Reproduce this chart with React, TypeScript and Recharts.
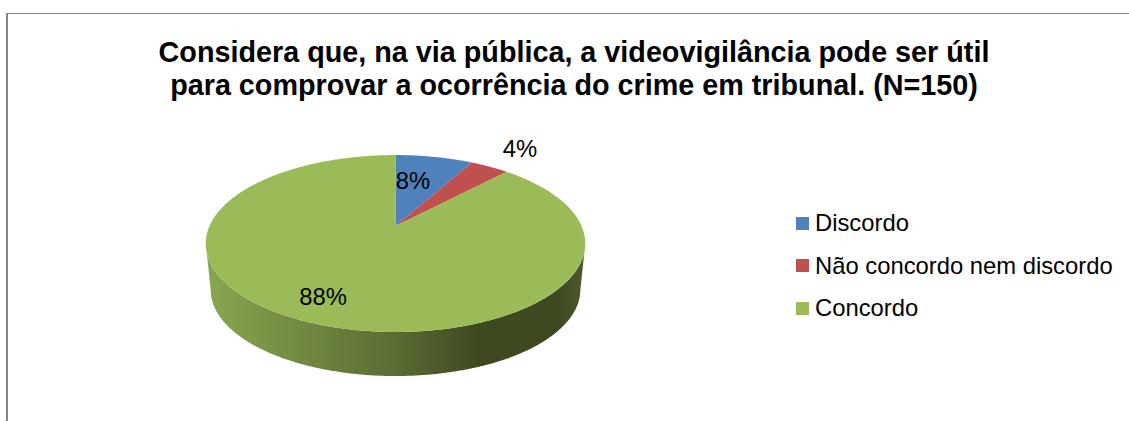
import { PieChart, Pie, Cell, Legend } from 'recharts';

const CATEGORIES = ['Discordo', 'Não concordo nem discordo', 'Concordo'];
const VALUES = [8, 4, 88];
const COLORS = ['#4F81BD', '#C0504D', '#9BBB59'];
const TITLE_LINES = [
  'Considera que, na via pública, a videovigilância pode ser útil',
  'para comprovar a ocorrência do crime em tribunal. (N=150)',
];

const chartData = CATEGORIES.map((name, i) => ({ name, value: VALUES[i] }));

const FONT = '"Liberation Sans", Arial, sans-serif';
// Excel's 3D pie: circle seen through a perspective projection
const TILT = 0.457;
const PERSPECTIVE = 0.198;
const DEPTH = 46.8;
const BOTTOM_SCALE = 0.974;
const LABEL_SPOTS = [
  { x: 413, y: 189 },
  { x: 520, y: 157 },
  { x: 323, y: 305 },
];

function project(cx: number, cy: number, r: number, deg: number, scale = 1, drop = 0) {
  const a = (deg * Math.PI) / 180;
  const w = 1 + PERSPECTIVE * Math.sin(a);
  return [
    cx + (scale * r * Math.cos(a)) / w,
    cy + drop - (scale * r * TILT * Math.sin(a)) / w,
  ];
}

function angleSteps(start: number, end: number) {
  const n = Math.max(2, Math.ceil(Math.abs(end - start) * 2));
  return Array.from({ length: n + 1 }, (_, i) => start + ((end - start) * i) / n);
}

function TopSlice(props: any) {
  const { cx, cy, outerRadius, startAngle, endAngle, fill } = props;
  const pts = angleSteps(startAngle, endAngle).map((d) => project(cx, cy, outerRadius, d));
  const path = `M${cx},${cy}L` + pts.map((p) => p.join(',')).join('L') + 'Z';
  return <path d={path} fill={fill} />;
}

function WallSlice(props: any) {
  const { cx, cy, outerRadius, startAngle, endAngle } = props;
  // only the part of the rim that faces the viewer
  const front = angleSteps(startAngle, endAngle).filter(
    (d) => Math.sin((d * Math.PI) / 180) < -PERSPECTIVE,
  );
  if (front.length < 2) return null;
  const top = front.map((d) => project(cx, cy, outerRadius, d));
  const bottom = front
    .slice()
    .reverse()
    .map((d) => project(cx, cy, outerRadius, d, BOTTOM_SCALE, DEPTH));
  const path = 'M' + [...top, ...bottom].map((p) => p.join(',')).join('L') + 'Z';
  return <path d={path} fill="url(#wallShade)" />;
}

function LegendList({ payload }: any) {
  const items = (payload || [])
    .filter((p: any) => p.type !== 'none')
    .sort((a: any, b: any) => CATEGORIES.indexOf(a.value) - CATEGORIES.indexOf(b.value));
  return (
    <div style={{ fontFamily: FONT, fontSize: 23.8, color: '#000' }}>
      {items.map((item: any) => (
        <div key={item.value} style={{ display: 'flex', alignItems: 'center', height: 42.5, whiteSpace: 'nowrap' }}>
          <span style={{ width: 13, height: 13, background: item.color, marginRight: 6 }} />
          {item.value}
        </div>
      ))}
    </div>
  );
}

function pctLabel(props: any) {
  const spot = LABEL_SPOTS[props.index];
  return (
    <text key={props.index} x={spot.x} y={spot.y} textAnchor="middle" fontFamily={FONT} fontSize={23.8} fill="#000">
      {VALUES[props.index]}%
    </text>
  );
}

export default function App() {
  return (
    <div style={{ position: 'absolute', left: 0, top: 0, width: 1129, height: 421, background: '#fff', overflow: 'hidden' }}>
      <div
        style={{
          position: 'absolute',
          left: 6,
          top: 13,
          width: 1200,
          height: 500,
          borderLeft: '2px solid #868686',
          borderTop: '1.5px solid #868686',
        }}
      />
      <PieChart
        width={1129}
        height={421}
        margin={{ top: 0, right: 0, bottom: 0, left: 0 }}
        style={{ position: 'absolute', left: 0, top: 0 }}
      >
        <defs>
          <linearGradient id="wallShade" gradientUnits="userSpaceOnUse" x1="206" y1="0" x2="585" y2="0">
            <stop offset="0" stopColor="#8AA650" />
            <stop offset="0.5" stopColor="#5A6C33" />
            <stop offset="0.72" stopColor="#3F4921" />
            <stop offset="0.93" stopColor="#3F4921" />
            <stop offset="1" stopColor="#4D5A2C" />
          </linearGradient>
        </defs>
        <text textAnchor="middle" fontFamily={FONT} fontWeight="bold" fontSize={28.75} fill="#000">
          <tspan x={574} y={62}>{TITLE_LINES[0]}</tspan>
          <tspan x={574} y={95}>{TITLE_LINES[1]}</tspan>
        </text>
        <Pie
          data={chartData}
          dataKey="value"
          nameKey="name"
          cx={395.5}
          cy={226}
          outerRadius={186}
          startAngle={90}
          endAngle={-270}
          stroke="none"
          legendType="none"
          shape={WallSlice}
          isAnimationActive={false}
        />
        <Pie
          data={chartData}
          dataKey="value"
          nameKey="name"
          cx={395.5}
          cy={226}
          outerRadius={186}
          startAngle={90}
          endAngle={-270}
          stroke="none"
          shape={TopSlice}
          label={pctLabel}
          labelLine={false}
          isAnimationActive={false}
        >
          {chartData.map((d, i) => (
            <Cell key={d.name} fill={COLORS[i]} />
          ))}
        </Pie>
        <Legend
          layout="vertical"
          align="right"
          verticalAlign="top"
          wrapperStyle={{ left: 796, top: 202, width: 330 }}
          content={LegendList}
        />
      </PieChart>
    </div>
  );
}
